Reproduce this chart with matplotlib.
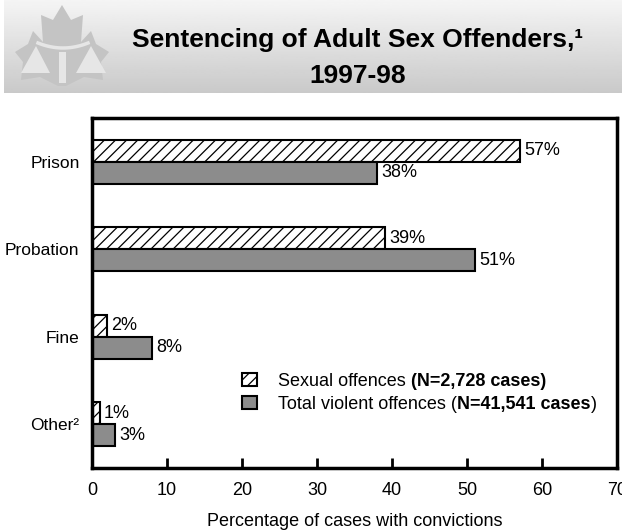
import matplotlib
matplotlib.use('Agg')
import matplotlib.pyplot as plt
import numpy as np
from matplotlib.patches import Polygon, Rectangle

plt.rcParams['font.family'] = ['Liberation Sans', 'DejaVu Sans']
plt.rcParams['hatch.linewidth'] = 0.9

# data
categories = ['Prison', 'Probation', 'Fine', 'Other²']
sexual = [57, 39, 2, 1]
violent = [38, 51, 8, 3]
# legend labels: (normal, bold, normal)
lbl_sexual = ('Sexual offences ', '(N=2,728 cases)', '')
lbl_violent = ('Total violent offences (', 'N=41,541 cases', ')')

W, H = 622, 531
fig = plt.figure(figsize=(W / 100, H / 100), dpi=100)

# banner + logo in pixel coords
bg = fig.add_axes([0, 0, 1, 1], zorder=0)
bg.set_xlim(0, W)
bg.set_ylim(H, 0)
bg.axis('off')
grad = np.linspace(0.96, 0.79, 100).reshape(-1, 1)
bg.imshow(grad, cmap='gray', vmin=0, vmax=1, extent=[4, W, 93, 0], aspect='auto')
leaf = [(62, 5), (71, 20), (83, 15), (81, 42), (91, 31), (96, 44), (109, 52),
        (101, 62), (103, 80), (84, 77), (66, 86), (58, 86), (40, 77), (21, 80),
        (23, 62), (15, 52), (28, 44), (33, 31), (43, 42), (41, 15), (53, 20)]
bg.add_patch(Polygon(leaf, closed=True, fc='#c4c4c4', ec='none'))
bg.add_patch(Polygon([(21, 73), (50, 73), (36, 46)], fc='#e6e6e6', ec='none'))
bg.add_patch(Polygon([(76, 73), (106, 73), (91, 46)], fc='#e6e6e6', ec='none'))
bg.add_patch(Rectangle((59, 52), 7, 31, fc='#e6e6e6', ec='none'))
xs = np.linspace(38, 88, 30)
bg.plot(xs, 43 + 5 * (1 - ((xs - 63) / 25) ** 2), color='#e6e6e6', lw=2.5)

bg.text(358, 40, 'Sentencing of Adult Sex Offenders,¹', ha='center', va='center',
        fontsize=19, fontweight='bold')
bg.text(358, 76, '1997-98', ha='center', va='center', fontsize=19, fontweight='bold')

ax = fig.add_axes([92 / W, 63 / H, 525 / W, 350 / H], zorder=1)
y = np.arange(len(categories))
h = 0.25
b1 = ax.barh(y - h / 2, sexual, height=h, color='white', edgecolor='black',
             hatch='///', linewidth=1.5, label=lbl_sexual[0])
b2 = ax.barh(y + h / 2, violent, height=h, color='#8c8c8c', edgecolor='black',
             linewidth=1.5, label=lbl_violent[0])
for bars, vals in [(b1, sexual), (b2, violent)]:
    for rect, v in zip(bars, vals):
        ax.text(v + 0.6, rect.get_y() + rect.get_height() / 2, f'{v}%',
                va='center', ha='left', fontsize=13)

ax.set_xlim(0, 70)
ax.set_ylim(3.5, -0.5)
ax.set_xticks(range(0, 71, 10))
ax.set_yticks(y)
ax.set_yticklabels(categories, fontsize=12.5)
ax.tick_params(axis='y', length=0, pad=9)
ax.tick_params(axis='x', direction='in', length=7, width=2, labelsize=13, pad=10)
ax.set_xlabel('Percentage of cases with convictions', fontsize=13, labelpad=10)
for s in ax.spines.values():
    s.set_linewidth(2.5)
    s.set_clip_on(False)

leg = ax.legend(loc='center left', bbox_to_anchor=(0.255, 0.215), frameon=False,
                fontsize=13, handlelength=0.8, handleheight=0.75, handletextpad=1.2,
                labelspacing=0.35)

# append bold / normal parts after each legend text (placed after layout)
fig.canvas.draw()
r = fig.canvas.get_renderer()
for txt, parts in zip(leg.get_texts(), [lbl_sexual, lbl_violent]):
    bb = txt.get_window_extent(r)
    x0, y0 = bb.x1, bb.y0
    for part, wt in [(parts[1], 'bold'), (parts[2], 'normal')]:
        if not part:
            continue
        t = fig.text(x0, y0, part, transform=None, va='bottom', ha='left',
                     fontsize=13, fontweight=wt)
        x0 = t.get_window_extent(r).x1

fig.savefig('out.png', dpi=100)
